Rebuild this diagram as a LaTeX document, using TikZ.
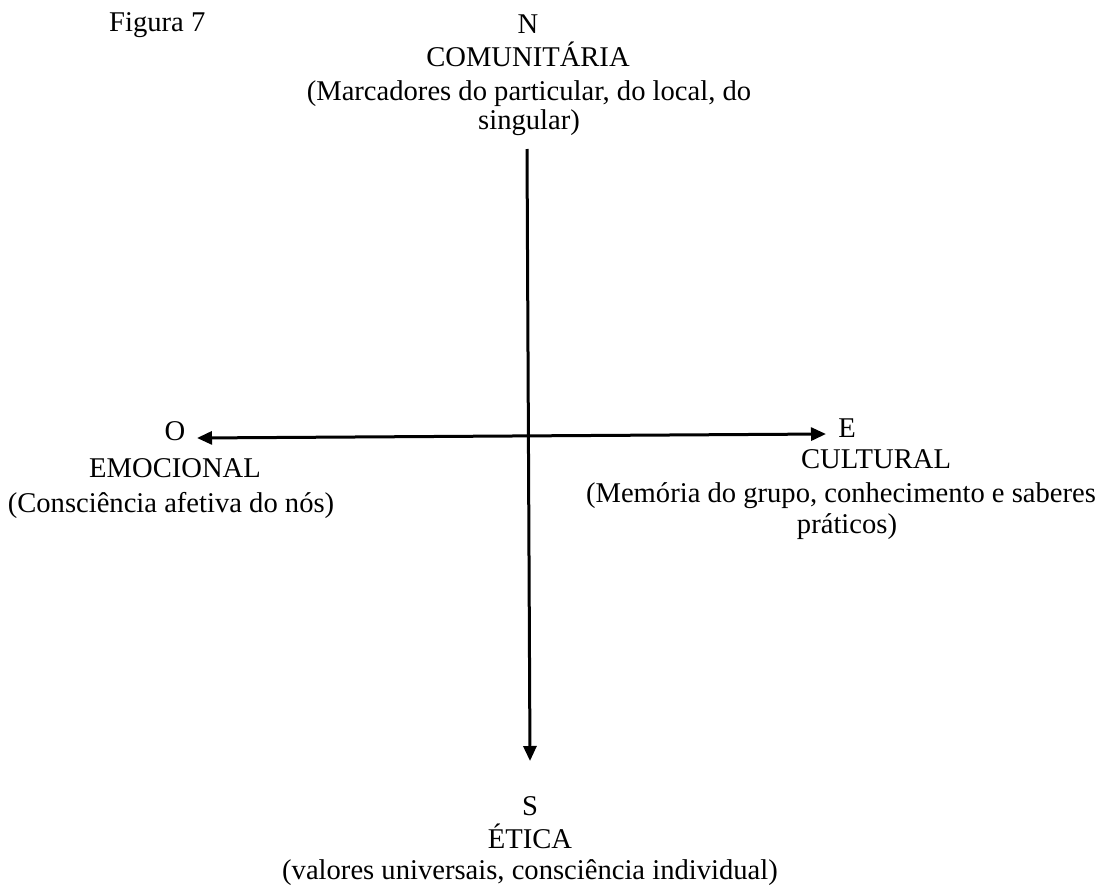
\documentclass[tikz,border=0pt]{standalone}
\usepackage{fontspec}
\setmainfont{Liberation Serif}
\usetikzlibrary{arrows.meta}
\begin{document}
\begin{tikzpicture}[x=1pt,y=-1pt,
  txt/.style={anchor=base,inner sep=0pt,font=\fontsize{28.6}{32}\selectfont},
  axis/.style={line width=3pt,draw=black,>={Triangle[length=15pt,width=13pt]}}]
\useasboundingbox (0,0) rectangle (1108,886);
% title
\node[txt,anchor=base west] (fig) at (109,31) {Figura 7};
% north
\node[txt] (n1) at (528,33) {N};
\node[txt] (n2) at (528,66) {COMUNITÁRIA};
\node[txt] (n3) at (529,100) {(Marcadores do particular, do local, do};
\node[txt] (n4) at (529,129) {singular)};
% west
\node[txt] (w1) at (175,440) {O};
\node[txt] (w2) at (175,477) {EMOCIONAL};
\node[txt] (w3) at (171,512) {(Consciência afetiva do nós)};
% east
\node[txt] (e1) at (847,437) {E};
\node[txt] (e2) at (876,468) {CULTURAL};
\node[txt] (e3) at (841,502) {(Memória do grupo, conhecimento e saberes};
\node[txt] (e4) at (847,533) {práticos)};
% south
\node[txt] (s1) at (530,815) {S};
\node[txt] (s2) at (530,848) {ÉTICA};
\node[txt] (s3) at (530,879) {(valores universais, consciência individual)};
% axes
\coordinate (ntop) at (527,149);
\coordinate (sbot) at (530,761);
\coordinate (wend) at (197,438);
\coordinate (eend) at (826,434);
\draw[axis,->] (ntop) -- (sbot);
\draw[axis,<->] (wend) -- (eend);
\end{tikzpicture}
\end{document}
